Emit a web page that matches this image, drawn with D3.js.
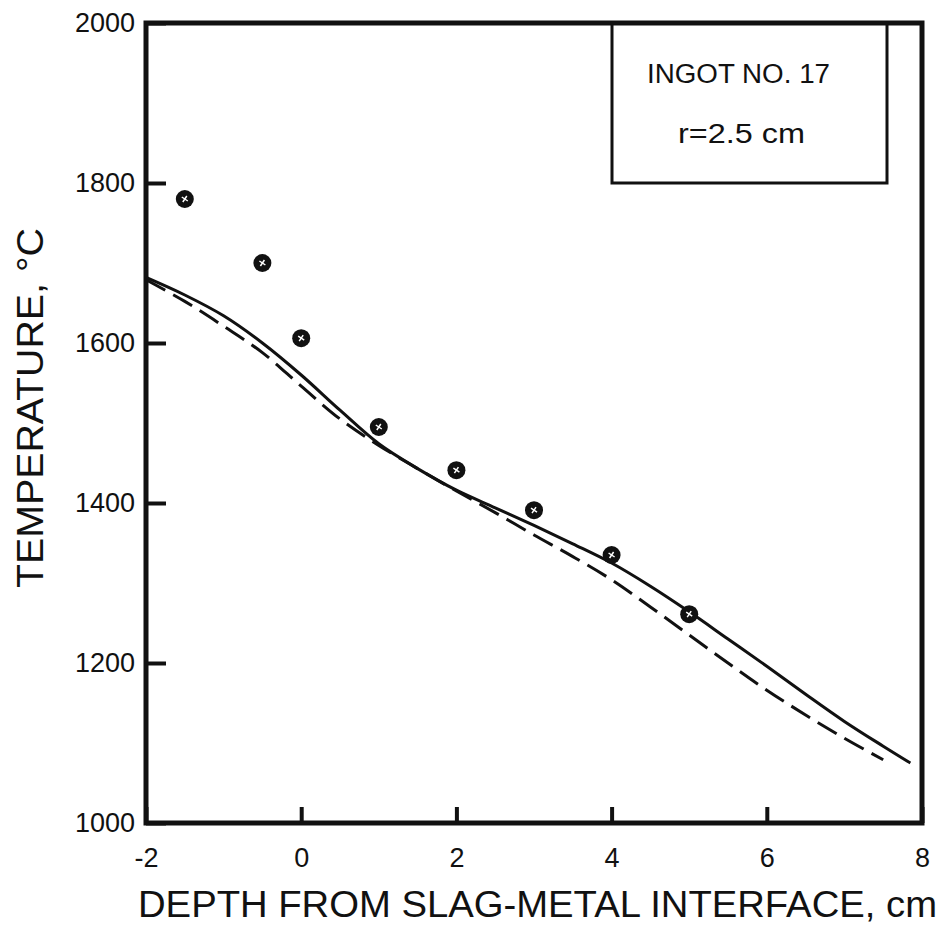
<!DOCTYPE html>
<html>
<head>
<meta charset="utf-8">
<script src="https://cdn.jsdelivr.net/npm/d3@7"></script>
<style>
  body { margin: 0; background: #fff; }
  text { font-family: "Liberation Sans", "DejaVu Sans", sans-serif; fill: #111; }
</style>
</head>
<body>
<div id="chart"></div>
<script>
// measured points (circles)
const pointDepth = [-1.5, -0.5, 0, 1, 2, 3, 4, 5]
const pointTemp = [1780, 1700, 1606, 1495, 1441, 1391, 1335, 1261]

// solid calculated curve
const solidDepth = [-2, -1.5, -1, -0.5, 0, 0.5, 1, 1.5, 2, 2.5, 3, 3.5, 4, 4.5, 5, 5.5, 6, 6.5, 7, 7.5, 7.85]
const solidTemp = [1682, 1660, 1634, 1600, 1560, 1516, 1474, 1443, 1416, 1394, 1372, 1349, 1325, 1296, 1264, 1230, 1196, 1161, 1127, 1096, 1075]

// dashed calculated curve
const dashDepth = [-2, -1.5, -1, -0.5, 0, 0.5, 1, 1.5, 2, 2.5, 3, 3.5, 4, 4.5, 5, 5.5, 6, 6.5, 7, 7.5]
const dashTemp = [1679, 1652, 1621, 1588, 1546, 1505, 1472, 1443, 1415, 1388, 1360, 1333, 1304, 1270, 1235, 1200, 1166, 1135, 1106, 1079]

// axis ticks
const xTicks = [-2, 0, 2, 4, 6, 8]
const yTicks = [1000, 1200, 1400, 1600, 1800, 2000]

let width = 945
let height = 928
let plotLeft = 146, plotRight = 922, plotTop = 23, plotBottom = 823

let svg = d3.select("#chart")
  .append("svg")
  .attr("width", width)
  .attr("height", height)
  .style("background", "#fff")

let x = d3.scaleLinear().domain([-2, 8]).range([plotLeft, plotRight])
let y = d3.scaleLinear().domain([1000, 2000]).range([plotBottom, plotTop])

// y axis with inward ticks
let yAxis = svg.append("g")
  .attr("transform", "translate(" + plotLeft + ",0)")
  .call(d3.axisLeft(y).tickValues(yTicks).tickFormat(d3.format("d")).tickSize(-20).tickPadding(11))
yAxis.select(".domain").remove()
yAxis.selectAll("line").attr("stroke", "#111").attr("stroke-width", 4)
yAxis.selectAll("text").style("font-size", "27px").attr("fill", "#111")

// x axis with inward ticks
let xAxis = svg.append("g")
  .attr("transform", "translate(0," + plotBottom + ")")
  .call(d3.axisBottom(x).tickValues(xTicks).tickFormat(d => d < 0 ? "-" + Math.abs(d) : d).tickSize(-16).tickPadding(25))
xAxis.select(".domain").remove()
xAxis.selectAll("line").attr("stroke", "#111").attr("stroke-width", 4)
xAxis.selectAll("text").style("font-size", "27px").attr("fill", "#111")

// plot frame
svg.append("rect")
  .attr("x", plotLeft)
  .attr("y", plotTop)
  .attr("width", plotRight - plotLeft)
  .attr("height", plotBottom - plotTop)
  .attr("fill", "none")
  .attr("stroke", "#111")
  .attr("stroke-width", 5)

// inset box
svg.append("rect")
  .attr("x", 612)
  .attr("y", plotTop)
  .attr("width", 887 - 612)
  .attr("height", 183 - plotTop)
  .attr("fill", "none")
  .attr("stroke", "#111")
  .attr("stroke-width", 3)

svg.append("text")
  .attr("x", 647)
  .attr("y", 83)
  .attr("textLength", 183)
  .attr("lengthAdjust", "spacingAndGlyphs")
  .style("font-size", "27px")
  .text("INGOT NO.  17")

svg.append("text")
  .attr("x", 678)
  .attr("y", 143)
  .attr("textLength", 127)
  .attr("lengthAdjust", "spacingAndGlyphs")
  .style("font-size", "27px")
  .text("r=2.5 cm")

// curves
let line = d3.line()
  .x(d => x(d[0]))
  .y(d => y(d[1]))
  .curve(d3.curveCatmullRom)

svg.append("path")
  .datum(solidDepth.map((d, i) => [d, solidTemp[i]]))
  .attr("d", line)
  .attr("fill", "none")
  .attr("stroke", "#111")
  .attr("stroke-width", 3)

svg.append("path")
  .datum(dashDepth.map((d, i) => [d, dashTemp[i]]))
  .attr("d", line)
  .attr("fill", "none")
  .attr("stroke", "#111")
  .attr("stroke-width", 3)
  .attr("stroke-dasharray", "22,9")

// measured points
let pts = svg.append("g")
  .selectAll("g")
  .data(pointDepth.map((d, i) => [d, pointTemp[i]]))
  .enter().append("g")
  .attr("transform", d => "translate(" + x(d[0]) + "," + y(d[1]) + ")")

pts.append("circle")
  .attr("r", 9)
  .attr("fill", "#111")

pts.append("path")
  .attr("d", "M-3,-2L3,2M-2,3L2,-3")
  .attr("stroke", "#fff")
  .attr("stroke-width", 1.5)

// axis titles
svg.append("text")
  .attr("x", 138)
  .attr("y", 917)
  .attr("textLength", 799)
  .attr("lengthAdjust", "spacingAndGlyphs")
  .style("font-size", "37px")
  .text("DEPTH FROM SLAG-METAL INTERFACE, cm")

svg.append("text")
  .attr("transform", "translate(43,408) rotate(-90)")
  .attr("text-anchor", "middle")
  .attr("textLength", 360)
  .attr("lengthAdjust", "spacingAndGlyphs")
  .style("font-size", "37px")
  .text("TEMPERATURE, °C")
</script>
</body>
</html>
